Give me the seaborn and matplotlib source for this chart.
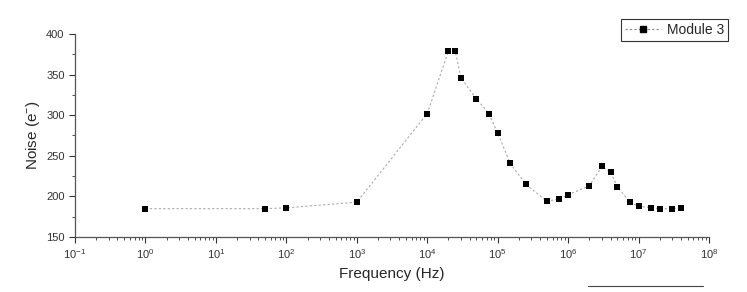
import numpy as np
import pandas as pd
import matplotlib
matplotlib.use("Agg")
import matplotlib.pyplot as plt
import matplotlib.ticker as mticker
from matplotlib.lines import Line2D
import seaborn as sns

# Datos (frecuencia en Hz, ruido en e-)
frecuencia = [1, 50, 100, 1e3, 1e4, 2e4, 2.5e4, 3e4, 5e4, 7.5e4, 1e5, 1.5e5, 2.5e5,
              5e5, 7.5e5, 1e6, 2e6, 3e6, 4e6, 5e6, 7.5e6, 1e7, 1.5e7, 2e7, 3e7, 4e7]
ruido = [185, 185, 186, 193, 302, 379, 379, 346, 320, 302, 278, 241, 215,
         194, 197, 202, 213, 237, 230, 212, 193, 188, 186, 185, 185, 186]
serie = "Module 3"

df = pd.DataFrame({"freq": frecuencia, "noise": ruido})

sns.set_style("ticks")
plt.rcParams["font.family"] = ["Liberation Sans", "DejaVu Sans"]
plt.rcParams["mathtext.fontset"] = "custom"
plt.rcParams["mathtext.rm"] = "Liberation Sans"
plt.rcParams["mathtext.it"] = "Liberation Sans:italic"
plt.rcParams["mathtext.bf"] = "Liberation Sans:bold"

fig = plt.figure(figsize=(7.47, 2.92), dpi=100)
ax = fig.add_axes([0.1004, 0.188, 0.8488, 0.696])

sns.lineplot(data=df, x="freq", y="noise", ax=ax, color="#aaaaaa",
             linestyle=(0, (2, 2)), linewidth=0.8)
sns.scatterplot(data=df, x="freq", y="noise", ax=ax, marker="s", s=20,
                color="black", edgecolor="black", linewidth=0, zorder=3)

ax.set_xscale("log")
ax.set_xlim(1e-1, 1e8)
ax.set_ylim(150, 400)
ax.yaxis.set_major_locator(mticker.MultipleLocator(50))
ax.yaxis.set_minor_locator(mticker.MultipleLocator(25))
ax.xaxis.set_major_locator(mticker.LogLocator(base=10, numticks=20))
ax.xaxis.set_minor_locator(mticker.LogLocator(base=10, subs=np.arange(2, 10), numticks=20))
ax.xaxis.set_minor_formatter(mticker.NullFormatter())

ax.tick_params(axis="both", which="major", direction="out", length=4, width=0.8,
               labelsize=8, colors="#333333")
ax.tick_params(axis="both", which="minor", direction="out", length=2.5, width=0.6,
               colors="#333333")
for lado in ["left", "bottom"]:
    ax.spines[lado].set_color("#555555")
    ax.spines[lado].set_linewidth(0.9)
sns.despine(ax=ax)

ax.set_xlabel("Frequency (Hz)", fontsize=11, labelpad=4)
ax.set_ylabel(r"Noise (e$^{\mathrm{-}}$)", fontsize=11, labelpad=3)

mango = Line2D([0], [0], color="#888888", linestyle=(0, (2, 2)), linewidth=0.8,
               marker="s", markersize=4.5, markerfacecolor="black", markeredgecolor="black")
leg = ax.legend([mango], [serie], loc="upper left", bbox_to_anchor=(0.861, 1.074),
                frameon=True, fancybox=False, fontsize=10, handlelength=2.6,
                borderpad=0.3, handletextpad=0.4, borderaxespad=0)
leg.get_frame().set_edgecolor("black")
leg.get_frame().set_linewidth(0.8)

# linea suelta en la esquina inferior derecha de la imagen original
fig.add_artist(Line2D([588 / 747, 703 / 747], [1 - 286 / 292, 1 - 286 / 292],
                      color="#444444", linewidth=0.8))

fig.savefig("out.png", dpi=100)
